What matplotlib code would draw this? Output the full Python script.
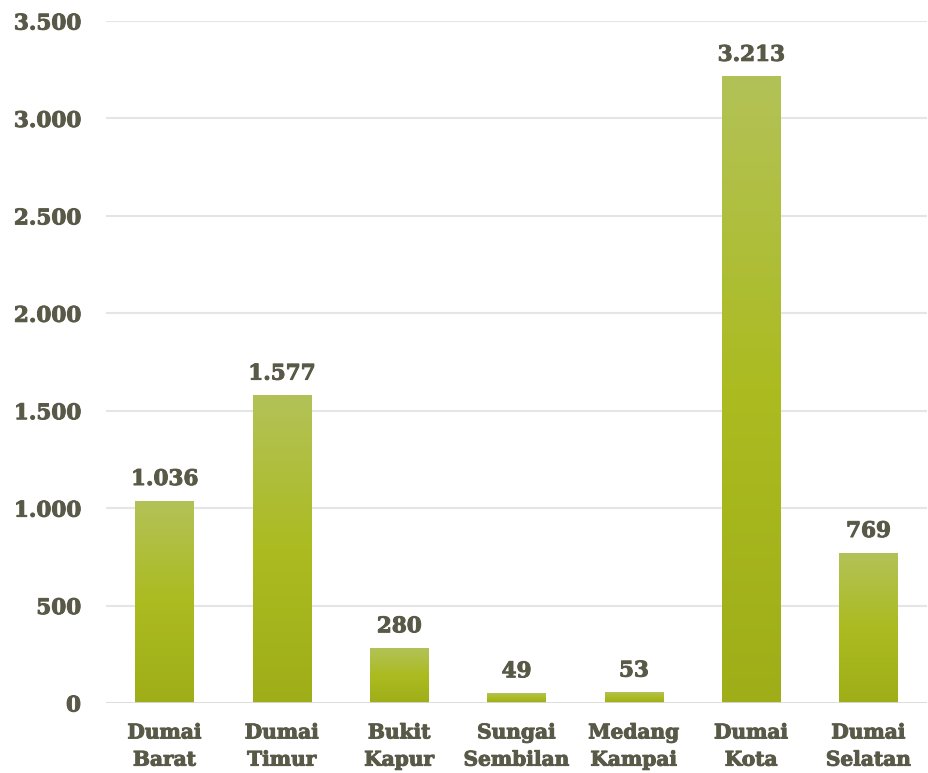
import matplotlib.pyplot as plt
import matplotlib.patheffects as pe
from matplotlib.colors import LinearSegmentedColormap
import numpy as np

# Jumlah per kecamatan di Kota Dumai
kecamatan = ['Dumai\nBarat', 'Dumai\nTimur', 'Bukit\nKapur', 'Sungai\nSembilan',
             'Medang\nKampai', 'Dumai\nKota', 'Dumai\nSelatan']
jumlah = [1036, 1577, 280, 49, 53, 3213, 769]
y_ticks = [0, 500, 1000, 1500, 2000, 2500, 3000, 3500]

text_color = '#595948'
plt.rcParams['font.family'] = ['DejaVu Serif']
plt.rcParams['font.weight'] = 'bold'

# a thin stroke in the text colour makes the bold serif a bit heavier
heavy = [pe.withStroke(linewidth=0.7, foreground=text_color)]

fig = plt.figure(figsize=(9.29, 7.73), dpi=100)
ax = fig.add_axes([0.114, 0.0906, 0.884, 0.8822])

# vertical gradient for the bars: light olive on top, darker at the base
grad = LinearSegmentedColormap.from_list('bar', ['#9fae18', '#abbb20', '#b3c257'])
bar_w = 0.5
gradient = np.linspace(0, 1, 256).reshape(-1, 1)

for i, v in enumerate(jumlah):
    ax.imshow(gradient, cmap=grad, origin='lower', aspect='auto',
              extent=(i - bar_w / 2, i + bar_w / 2, 0, v), zorder=3)
    ax.annotate(f'{v:,}'.replace(',', '.'), (i, v), xytext=(0, 8),
                textcoords='offset points', ha='center', va='bottom',
                fontsize=15.5, color=text_color, fontweight='bold',
                path_effects=heavy)

ax.set_xlim(-0.5, len(jumlah) - 0.5)
ax.set_ylim(0, 3500)
ax.set_yticks(y_ticks)
ax.set_yticklabels([f'{t:,}'.replace(',', '.') for t in y_ticks])
ax.set_xticks(range(len(jumlah)))
ax.set_xticklabels(kecamatan, linespacing=1.45)

for lbl in ax.get_xticklabels() + ax.get_yticklabels():
    lbl.set_path_effects(heavy)

for t in y_ticks[1:]:
    ax.axhline(t, color='#e5e5e5', lw=1.5, zorder=1)
ax.axhline(0, color='#d9d9d9', lw=2, zorder=4)

for s in ax.spines.values():
    s.set_visible(False)
ax.tick_params(length=0, colors=text_color)
ax.tick_params(axis='y', pad=18, labelsize=15.5)
ax.tick_params(axis='x', pad=14, labelsize=14.5)

fig.savefig('out.png', dpi=100)
